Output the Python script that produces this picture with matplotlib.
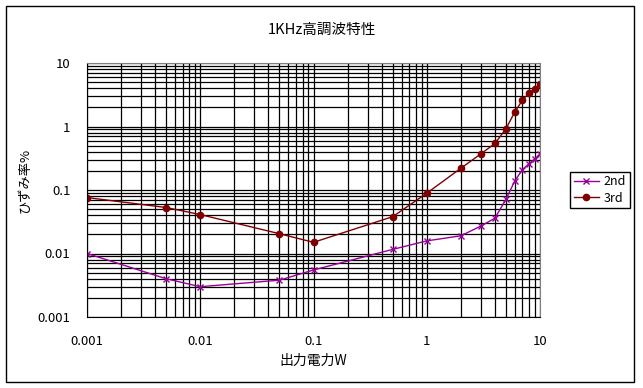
import matplotlib
matplotlib.use("Agg")
import matplotlib.pyplot as plt
from matplotlib.patches import Rectangle
import numpy as np

plt.rcParams['font.family'] = ['Noto Sans CJK JP', 'DejaVu Sans']

# 出力電力 (W)
power = [0.001, 0.005, 0.01, 0.05, 0.1, 0.5, 1, 2, 3, 4, 5, 6, 7, 8, 9, 10]
# ひずみ率 (%)
thd_2nd = [0.010, 0.0040, 0.0030, 0.0038, 0.0055, 0.0116, 0.0158, 0.019,
           0.027, 0.036, 0.071, 0.14, 0.21, 0.26, 0.31, 0.37]
thd_3rd = [0.076, 0.053, 0.041, 0.0205, 0.015, 0.038, 0.089, 0.22,
           0.37, 0.54, 0.92, 1.7, 2.6, 3.35, 3.95, 4.6]

tick_vals = [0.001, 0.01, 0.1, 1, 10]
tick_labels = ["0.001", "0.01", "0.1", "1", "10"]

W, H = 643, 388
fig = plt.figure(figsize=(W / 100, H / 100), dpi=100)
ax = fig.add_axes([87 / W, 1 - 317 / H, 453 / W, 254 / H])

ax.plot(power, thd_2nd, color="#990099", lw=1, marker="x", ms=4.5, mew=1,
        label="2nd")
ax.plot(power, thd_3rd, color="#800000", lw=1, marker="o", ms=4.5,
        label="3rd")

ax.set_xscale("log")
ax.set_yscale("log")
ax.set_xlim(0.001, 10)
ax.set_ylim(0.001, 10)

ax.set_xticks(tick_vals, tick_labels)
ax.set_yticks(tick_vals, tick_labels)
minor = [m * 10.0 ** e for e in range(-3, 1) for m in range(2, 10)]
ax.set_xticks(minor, minor=True)
ax.set_yticks(minor, minor=True)
ax.tick_params(which="both", length=0)
ax.tick_params(axis="x", pad=13, labelsize=9.5)
ax.tick_params(axis="y", pad=12, labelsize=9.5)
ax.grid(True, which="both", color="black", lw=0.9)
ax.set_axisbelow(True)

for s in ["top", "right"]:
    ax.spines[s].set_color("#808080")
for s in ["left", "bottom"]:
    ax.spines[s].set_color("black")

fig.text(322 / W, 1 - 30 / H, "1KHz高調波特性", ha="center", va="center",
         fontsize=10.5)
fig.text(313 / W, 1 - 361 / H, "出力電力W", ha="center", va="center",
         fontsize=10)
fig.text(25 / W, 1 - 180 / H, "ひずみ率%", ha="center", va="center",
         rotation=90, fontsize=9.5)

leg = fig.legend(loc="center left", bbox_to_anchor=(570 / W, 1 - 190 / H),
                 fontsize=9, frameon=True, fancybox=False, edgecolor="black",
                 handlelength=2.0, borderpad=0.3, labelspacing=0.25,
                 handletextpad=0.4, borderaxespad=0, framealpha=1)
leg.get_frame().set_linewidth(1)

fig.patches.append(Rectangle((6 / W, 1 - 382 / H), 628 / W, 376 / H,
                             transform=fig.transFigure, fill=False,
                             edgecolor="black", lw=1))

fig.savefig("out.png", dpi=100)
